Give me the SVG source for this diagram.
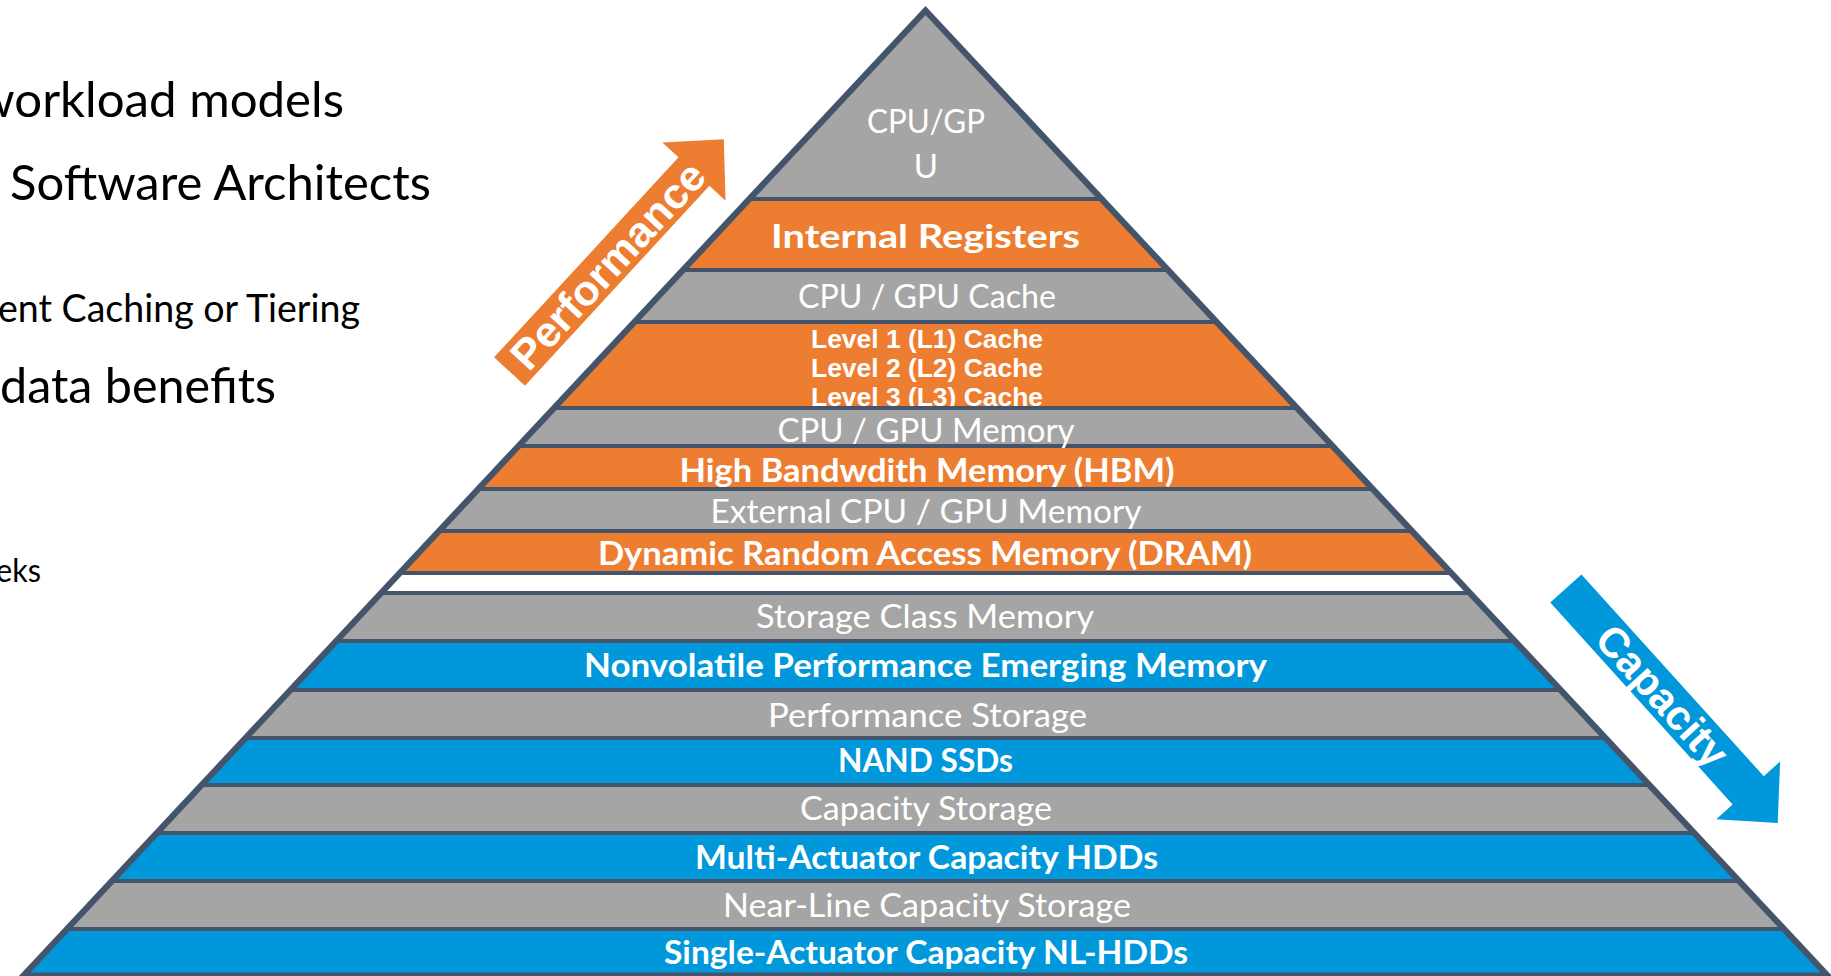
<svg xmlns="http://www.w3.org/2000/svg" width="1831" height="976" viewBox="0 0 1831 976">
  <style>
    .edge { fill: #44546A; }
    .gray { fill: #A5A5A5; }
    .orange { fill: #ED7D31; }
    .blue { fill: #0098DA; }
    .gap { fill: #FFFFFF; }
    .lbl { font-family: Lato, "Open Sans", "Liberation Sans", sans-serif; font-size: 33px; fill: #FFFFFF; text-anchor: middle; }
    .b { font-weight: 700; }
    .cache { font-family: "Liberation Sans", Arial, sans-serif; font-weight: 700; font-size: 26px; fill: #FFFFFF; text-anchor: middle; }
    .side { font-family: Lato, "Open Sans", "Liberation Sans", sans-serif; fill: #000000; }
    .arrowtxt { font-family: "Liberation Sans", Arial, sans-serif; font-weight: 700; font-size: 42px; fill: #FFFFFF; text-anchor: middle; }
  </style>
  <defs>
    <clipPath id="clip-l123">
      <rect x="500" y="324" width="850" height="82"/>
    </clipPath>
    <!-- block arrow in local coordinates: shaft 272 long, head 44 long -->
    <path id="block-arrow" d="M0,-21 L272,-21 L272,-43 L316,0 L272,43 L272,21 L0,21 Z"/>
  </defs>

  <rect width="1831" height="976" fill="#FFFFFF"/>

  <!-- clipped slide text on the left -->
  <g id="side-text">
    <text class="side" x="-24" y="117" font-size="48" textLength="368" lengthAdjust="spacingAndGlyphs">workload models</text>
    <text class="side" x="10" y="200" font-size="48" textLength="421" lengthAdjust="spacingAndGlyphs">Software Architects</text>
    <text class="side" x="-2" y="322" font-size="38" textLength="362" lengthAdjust="spacingAndGlyphs">ent Caching or Tiering</text>
    <text class="side" x="0" y="403" font-size="48" textLength="276" lengthAdjust="spacingAndGlyphs">data benefits</text>
    <text class="side" x="-4" y="582" font-size="32" textLength="45" lengthAdjust="spacingAndGlyphs">eks</text>
  </g>

  <!-- pyramid outline -->
  <g id="pyramid-frame">
    <polygon class="edge" points="925.5,6 1834,978 17,978"/>
  </g>

  <!-- memory tiers -->
  <g id="tier-cpu-gpu">
    <polygon class="gray" points="925.5,15.1 1095.5,197 755.5,197"/>
    <text class="lbl" x="926" y="133" font-size="33" textLength="118" lengthAdjust="spacingAndGlyphs">CPU/GP</text>
    <text class="lbl" x="926" y="178" font-size="33">U</text>
  </g>
  <g id="tier-internal-registers">
    <polygon class="orange" points="751.7,201 1099.3,201 1161.9,268 689.1,268"/>
    <text class="lbl b" x="925.5" y="248" font-size="40" textLength="309" lengthAdjust="spacingAndGlyphs">Internal Registers</text>
  </g>
  <g id="tier-cpu-gpu-cache">
    <polygon class="gray" points="685.4,272 1165.6,272 1210.5,320 640.5,320"/>
    <text class="lbl" x="927" y="308" textLength="258" lengthAdjust="spacingAndGlyphs">CPU / GPU Cache</text>
  </g>
  <g id="tier-l1-l3-cache">
    <polygon class="orange" points="636.8,324 1214.2,324 1290.9,406 560.1,406"/>
    <g clip-path="url(#clip-l123)">
      <text class="cache" x="927" y="348" textLength="232" lengthAdjust="spacingAndGlyphs">Level 1 (L1) Cache</text>
      <text class="cache" x="927" y="377" textLength="232" lengthAdjust="spacingAndGlyphs">Level 2 (L2) Cache</text>
      <text class="cache" x="927" y="406" textLength="232" lengthAdjust="spacingAndGlyphs">Level 3 (L3) Cache</text>
    </g>
  </g>
  <g id="tier-cpu-gpu-memory">
    <polygon class="gray" points="556.4,410 1294.6,410 1326.4,444 524.6,444"/>
  </g>
  <g id="tier-hbm">
    <polygon class="orange" points="520.9,448 1330.1,448 1366.6,487 484.4,487"/>
    <text class="lbl b" x="927" y="482" textLength="495" lengthAdjust="spacingAndGlyphs">High Bandwdith Memory (HBM)</text>
  </g>
  <g id="tier-external-memory">
    <polygon class="gray" points="480.7,491 1370.3,491 1405.8,529 445.2,529"/>
    <text class="lbl" x="926" y="523" textLength="431" lengthAdjust="spacingAndGlyphs">External CPU / GPU Memory</text>
  </g>
  <g id="tier-dram">
    <polygon class="orange" points="441.4,533 1409.6,533 1445.1,571 405.9,571"/>
    <text class="lbl b" x="925" y="565" textLength="654" lengthAdjust="spacingAndGlyphs">Dynamic Random Access Memory (DRAM)</text>
  </g>
  <g id="tier-divider">
    <polygon class="gap" points="402.2,575 1448.8,575 1463.8,591 387.2,591"/>
  </g>

  <!-- storage tiers -->
  <g id="tier-scm">
    <polygon class="gray" points="383.5,595 1467.5,595 1508.7,639 342.3,639"/>
    <text class="lbl" x="925" y="628" textLength="338" lengthAdjust="spacingAndGlyphs">Storage Class Memory</text>
  </g>
  <g id="tier-nvm">
    <polygon class="blue" points="338.6,643 1512.4,643 1554.5,688 296.5,688"/>
    <text class="lbl b" x="925.5" y="677" textLength="683" lengthAdjust="spacingAndGlyphs">Nonvolatile Performance Emerging Memory</text>
  </g>
  <g id="tier-performance-storage">
    <polygon class="gray" points="292.8,692 1558.2,692 1599.3,736 251.7,736"/>
    <text class="lbl" x="927.5" y="727" textLength="319" lengthAdjust="spacingAndGlyphs">Performance Storage</text>
  </g>
  <g id="tier-nand">
    <polygon class="blue" points="247.9,740 1603.1,740 1643.3,783 207.7,783"/>
    <text class="lbl b" x="925.5" y="772" textLength="175" lengthAdjust="spacingAndGlyphs">NAND SSDs</text>
  </g>
  <g id="tier-capacity-storage">
    <polygon class="gray" points="204,787 1647,787 1688.1,831 162.9,831"/>
    <text class="lbl" x="926" y="820" textLength="252" lengthAdjust="spacingAndGlyphs">Capacity Storage</text>
  </g>
  <g id="tier-multi-actuator">
    <polygon class="blue" points="159.1,835 1691.9,835 1733,879 118,879"/>
    <text class="lbl b" x="926.5" y="869" textLength="463" lengthAdjust="spacingAndGlyphs">Multi-Actuator Capacity HDDs</text>
  </g>
  <g id="tier-near-line">
    <polygon class="gray" points="114.3,883 1736.7,883 1777.9,927 73.1,927"/>
    <text class="lbl" x="927" y="917" textLength="408" lengthAdjust="spacingAndGlyphs">Near-Line Capacity Storage</text>
  </g>
  <g id="tier-single-actuator">
    <polygon class="blue" points="69.4,931 1781.6,931 1820.4,972.5 30.6,972.5"/>
    <text class="lbl b" x="926" y="964" textLength="524" lengthAdjust="spacingAndGlyphs">Single-Actuator Capacity NL-HDDs</text>
  </g>

  <!-- label drawn last so its descender sits over the divider line -->
  <g id="tier-cpu-gpu-memory-label">
    <text class="lbl" x="926" y="442" textLength="297" lengthAdjust="spacingAndGlyphs">CPU / GPU Memory</text>
  </g>

  <!-- direction arrows -->
  <g id="connectors">
    <g id="arrow-performance" transform="translate(509.5,371.5) rotate(-47.3)">
      <use href="#block-arrow" fill="#ED7D31"/>
      <text class="arrowtxt" x="144.5" y="15" textLength="265" lengthAdjust="spacingAndGlyphs">Performance</text>
    </g>
    <g id="arrow-capacity" transform="translate(1565.85,588.5) rotate(47.9)">
      <use href="#block-arrow" fill="#0098DA"/>
      <text class="arrowtxt" x="144.5" y="15" textLength="175" lengthAdjust="spacingAndGlyphs">Capacity</text>
    </g>
  </g>
</svg>
